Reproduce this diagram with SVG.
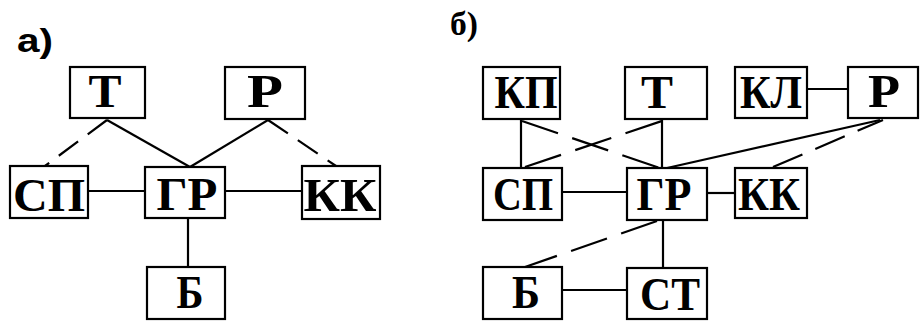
<svg xmlns="http://www.w3.org/2000/svg" width="920" height="321" viewBox="0 0 920 321">
<style>
.box{fill:#fff;stroke:#000;stroke-width:2.2}
.t{font-family:"Liberation Serif","Times New Roman",serif;font-weight:bold;font-size:46px;text-anchor:middle;fill:#000}
.lbl{font-family:"Liberation Serif","Times New Roman",serif;font-weight:bold;font-size:34px;fill:#000}
.c{stroke:#000;stroke-width:2.2;fill:none}
.d1{stroke-dasharray:24 12}
.d2{stroke-dasharray:38 15}
.d3{stroke-dasharray:32 14}
</style>
<rect width="920" height="321" fill="#fff"/>
<text class="lbl" x="17" y="52" textLength="36" lengthAdjust="spacingAndGlyphs" style="font-family:'Liberation Sans',Arial,sans-serif">а)</text>
<text class="lbl" x="450" y="35" textLength="28" lengthAdjust="spacingAndGlyphs">б)</text>
<g id="connectors">
  <line class="c d1" x1="107" y1="120" x2="45" y2="166"/>
  <line class="c" x1="107" y1="120" x2="190" y2="167"/>
  <line class="c" x1="268" y1="120" x2="190" y2="167"/>
  <line class="c d1" x1="268" y1="120" x2="336" y2="166"/>
  <line class="c" x1="88" y1="191" x2="145" y2="191"/>
  <line class="c" x1="225" y1="191" x2="302" y2="191"/>
  <line class="c" x1="188" y1="218" x2="188" y2="267"/>
  <line class="c" x1="807" y1="89" x2="848" y2="89"/>
  <line class="c" x1="521" y1="119" x2="521" y2="168"/>
  <line class="c" x1="662" y1="119" x2="662" y2="168"/>
  <line class="c" x1="562" y1="192" x2="627" y2="192"/>
  <line class="c" x1="707" y1="193" x2="735" y2="193"/>
  <line class="c" x1="663" y1="220" x2="663" y2="268"/>
  <line class="c" x1="562" y1="290" x2="627" y2="290"/>
  <line class="c d2" x1="522" y1="121" x2="660" y2="168"/>
  <line class="c d2" x1="525" y1="167" x2="662" y2="121"/>
  <line class="c" x1="667" y1="168" x2="880" y2="120"/>
  <line class="c d3" x1="773" y1="167" x2="883" y2="120"/>
  <line class="c d2" x1="657" y1="221" x2="525" y2="267"/>
</g>
<g id="a-T"><rect class="box" x="70" y="67" width="75" height="51"/><text class="t" x="105" y="107" textLength="33" lengthAdjust="spacingAndGlyphs">Т</text></g>
<g id="a-R"><rect class="box" x="225" y="67" width="80" height="52"/><text class="t" x="265" y="107" textLength="36" lengthAdjust="spacingAndGlyphs">Р</text></g>
<g id="a-SP"><rect class="box" x="10" y="166" width="78" height="52"/><text class="t" x="49" y="211" textLength="72" lengthAdjust="spacingAndGlyphs">СП</text></g>
<g id="a-GR"><rect class="box" x="145" y="167" width="80" height="51"/><text class="t" x="187" y="210" textLength="61" lengthAdjust="spacingAndGlyphs">ГР</text></g>
<g id="a-KK"><rect class="box" x="302" y="166" width="78" height="53"/><text class="t" x="340" y="211" textLength="73" lengthAdjust="spacingAndGlyphs">КК</text></g>
<g id="a-B"><rect class="box" x="147" y="267" width="78" height="52"/><text class="t" x="190" y="308" textLength="27" lengthAdjust="spacingAndGlyphs">Б</text></g>
<g id="b-KP"><rect class="box" x="483" y="67" width="77" height="52"/><text class="t" x="526" y="108" textLength="63" lengthAdjust="spacingAndGlyphs">КП</text></g>
<g id="b-T"><rect class="box" x="625" y="67" width="82" height="52"/><text class="t" x="657" y="108" textLength="32" lengthAdjust="spacingAndGlyphs">Т</text></g>
<g id="b-KL"><rect class="box" x="735" y="67" width="72" height="51"/><text class="t" x="771" y="108" textLength="62" lengthAdjust="spacingAndGlyphs">КЛ</text></g>
<g id="b-R"><rect class="box" x="848" y="67" width="70" height="51"/><text class="t" x="884" y="107" textLength="32" lengthAdjust="spacingAndGlyphs">Р</text></g>
<g id="b-SP"><rect class="box" x="483" y="168" width="79" height="52"/><text class="t" x="523" y="210" textLength="60" lengthAdjust="spacingAndGlyphs">СП</text></g>
<g id="b-GR"><rect class="box" x="627" y="168" width="80" height="52"/><text class="t" x="664" y="210" textLength="55" lengthAdjust="spacingAndGlyphs">ГР</text></g>
<g id="b-KK"><rect class="box" x="735" y="168" width="72" height="50"/><text class="t" x="769" y="210" textLength="62" lengthAdjust="spacingAndGlyphs">КК</text></g>
<g id="b-B"><rect class="box" x="483" y="267" width="79" height="52"/><text class="t" x="526" y="308" textLength="28" lengthAdjust="spacingAndGlyphs">Б</text></g>
<g id="b-ST"><rect class="box" x="627" y="268" width="80" height="51"/><text class="t" x="670" y="310" textLength="60" lengthAdjust="spacingAndGlyphs">СТ</text></g>
</svg>
